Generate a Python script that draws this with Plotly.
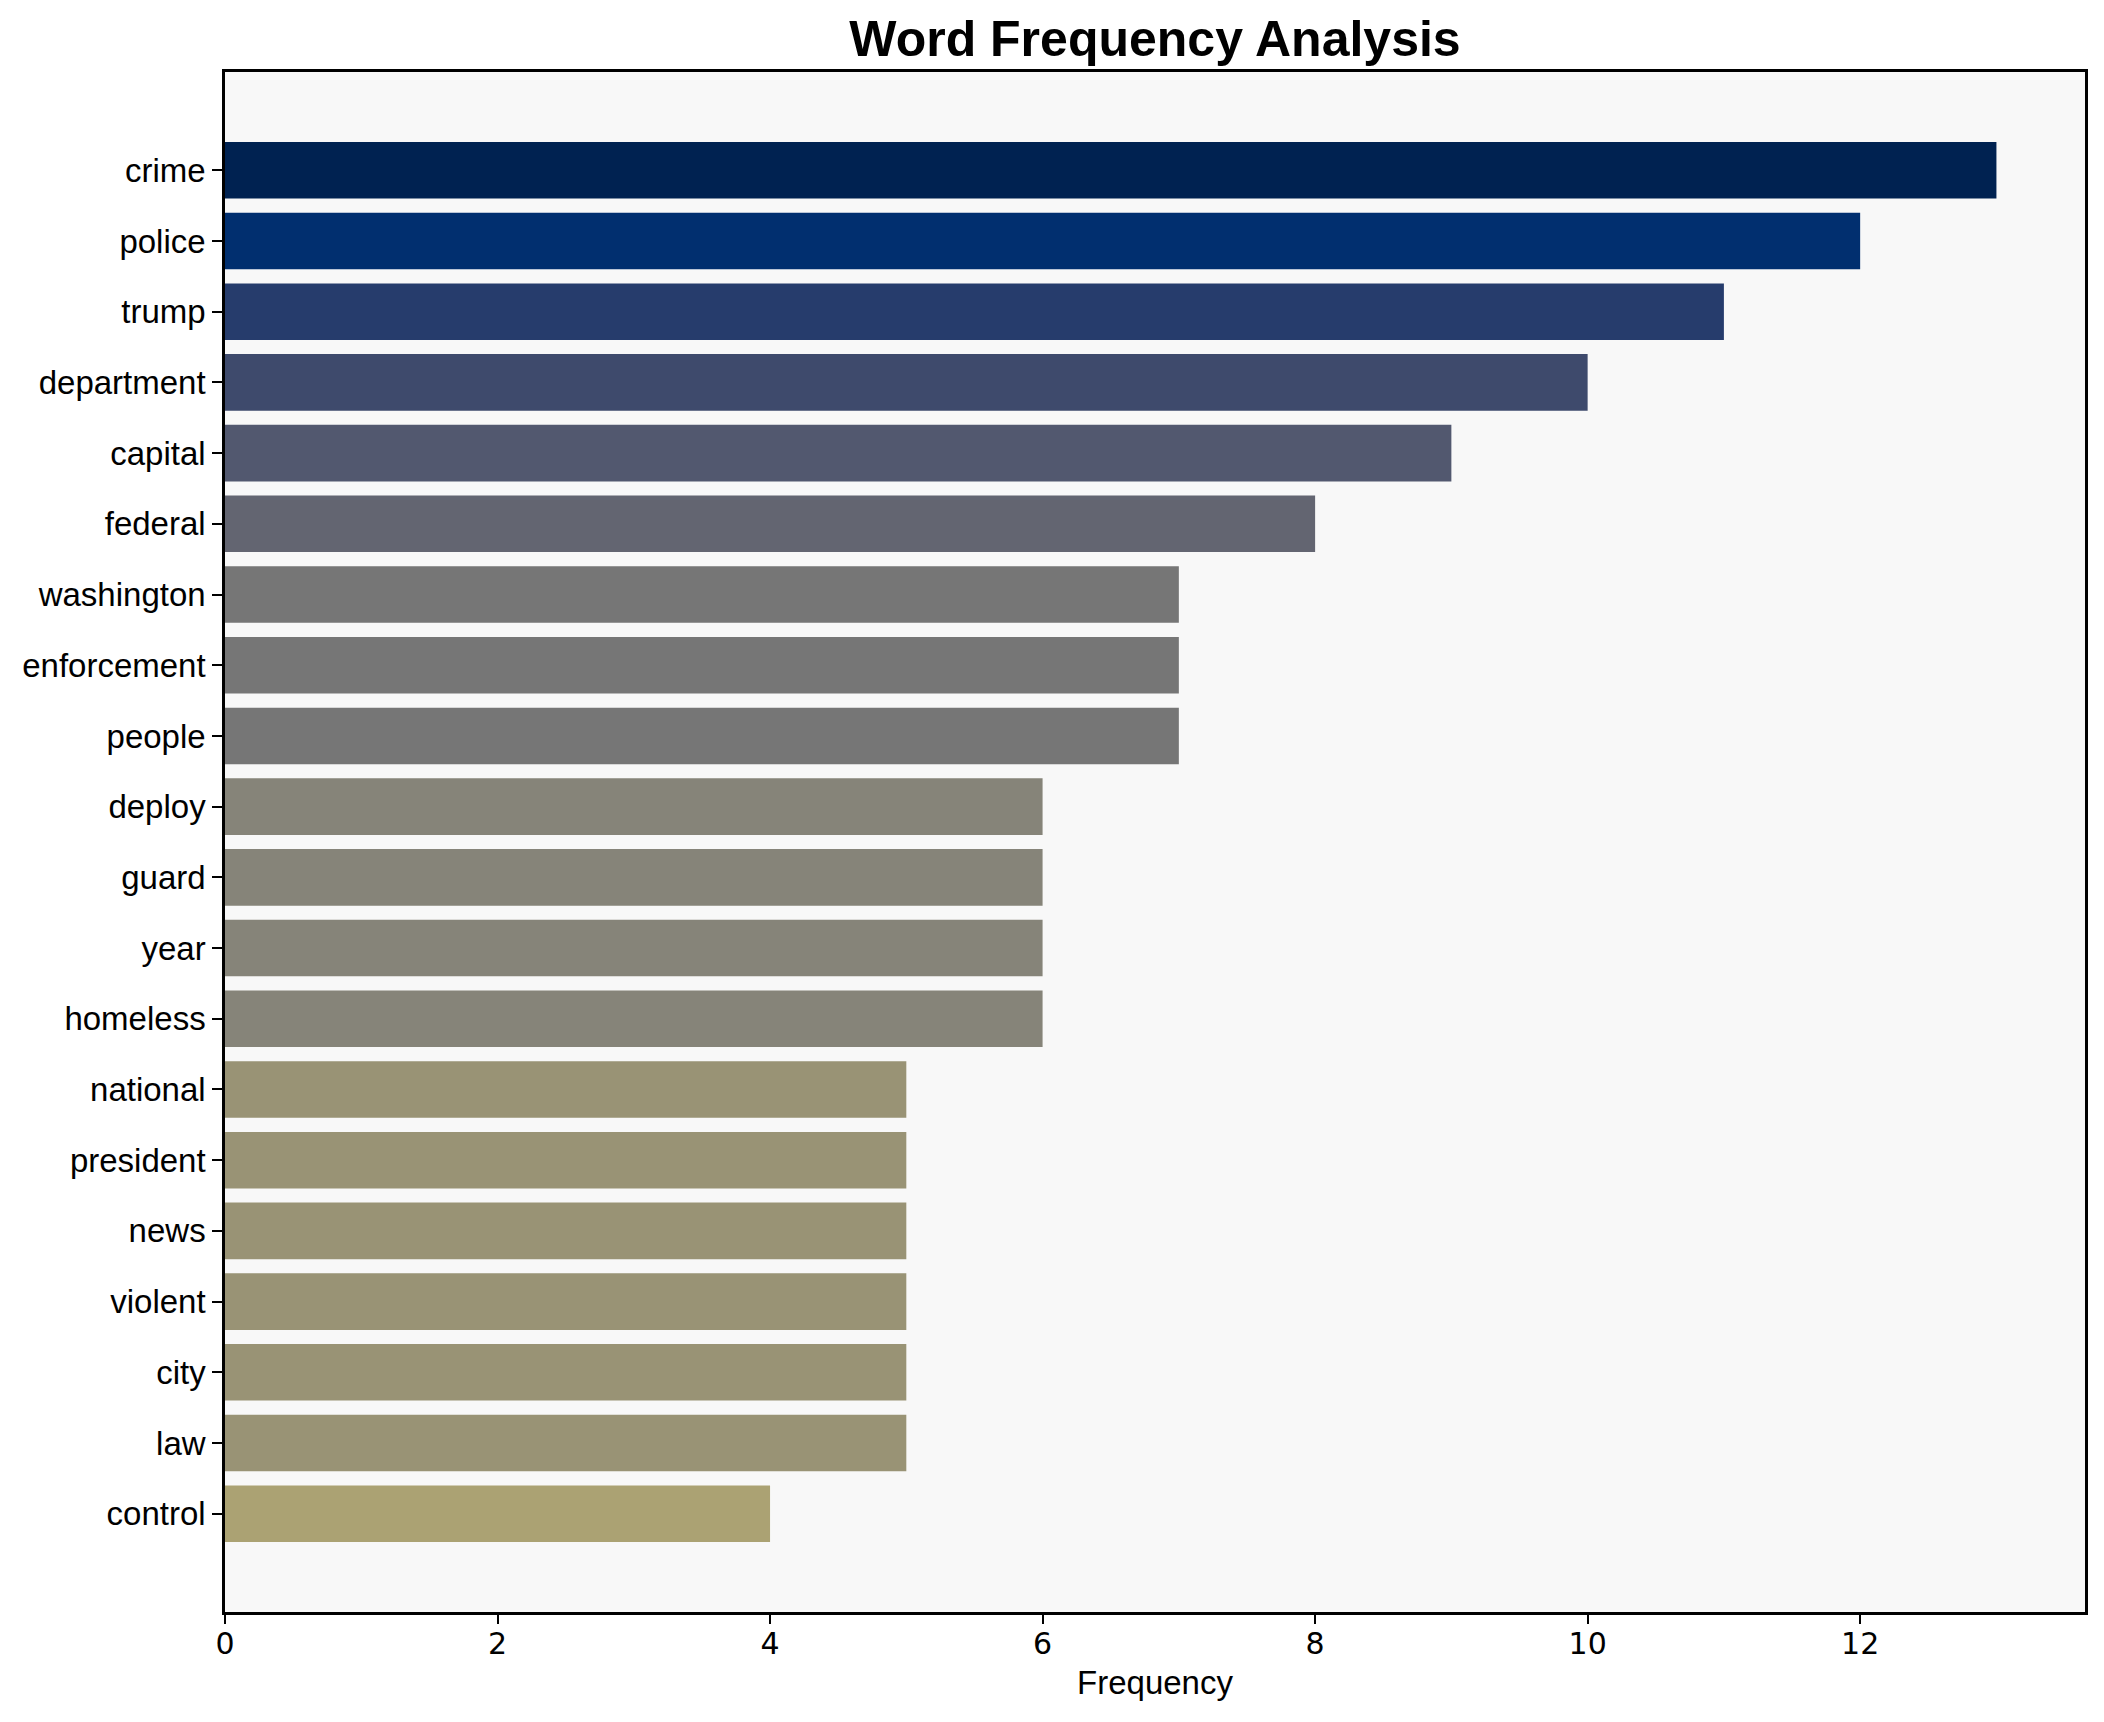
import plotly.graph_objects as go

words = ["crime", "police", "trump", "department", "capital", "federal",
         "washington", "enforcement", "people", "deploy", "guard", "year",
         "homeless", "national", "president", "news", "violent", "city",
         "law", "control"]
freqs = [13, 12, 11, 10, 9, 8, 7, 7, 7, 6, 6, 6, 6, 5, 5, 5, 5, 5, 5, 4]
bar_colors = ["#002251", "#012f6f", "#263c6c", "#3e4a6c", "#52586f", "#636571",
              "#767676", "#767676", "#767676", "#868479", "#868479", "#868479",
              "#868479", "#999375", "#999375", "#999375", "#999375", "#999375",
              "#999375", "#aba273"]
x_ticks = [0, 2, 4, 6, 8, 10, 12]

# page body has an 8px default margin; compensate so the plot area lands at
# x 225..2085, y 72..1612 of the 2104x1722 window
OFF = 8
W, H = 2104 - OFF, 1722 - OFF
L, R, T, B = 225 - OFF, 19, 72 - OFF, 110
FONT = "Liberation Sans, Arial, Helvetica, sans-serif"
TICKFONT = "DejaVu Sans, Verdana, sans-serif"

fig = go.Figure(go.Bar(
    x=freqs, y=words, orientation="h",
    marker=dict(color=bar_colors, line=dict(width=0)),
))

fig.update_layout(
    width=W, height=H,
    margin=dict(l=L, r=R, t=T, b=B, pad=0),
    paper_bgcolor="white", plot_bgcolor="#f8f8f8",
    bargap=0.2, showlegend=False,
    font=dict(family=FONT, color="black"),
    title=dict(text="<b>Word Frequency Analysis</b>", font=dict(size=50, family=FONT, color="black"),
               x=(L + (W - R)) / 2 / W, xanchor="center", xref="container",
               y=1 - 30 / H, yanchor="middle", yref="container"),
)

fig.update_xaxes(
    range=[0, 13.65], tickvals=x_ticks, ticktext=[str(v) for v in x_ticks],
    ticks="outside", ticklen=9, tickwidth=2, tickcolor="black",
    tickfont=dict(size=30, family=TICKFONT, color="black"),
    ticklabelstandoff=-6,
    showline=True, linewidth=2.5, linecolor="black", mirror=True,
    showgrid=False, zeroline=False,
    title=dict(text="Frequency", font=dict(size=33, family=FONT, color="black"), standoff=12),
)
fig.update_yaxes(
    categoryorder="array", categoryarray=words,
    range=[20.39, -1.39],
    ticks="outside", ticklen=10, tickwidth=2, tickcolor="black",
    tickfont=dict(size=33, family=FONT, color="black"),
    showline=True, linewidth=2.5, linecolor="black", mirror=True,
    showgrid=False, zeroline=False,
)

fig.write_html("out.html")
